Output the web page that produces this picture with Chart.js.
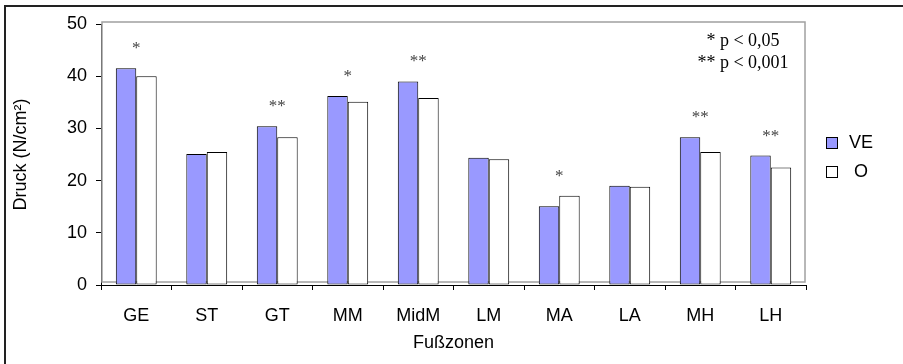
<!DOCTYPE html>
<html>
<head>
<meta charset="utf-8">
<script src="https://cdn.jsdelivr.net/npm/chart.js@4.4.1/dist/chart.umd.min.js"></script>
<style>
    body { margin: 0; background: #fff; }
    #wrap { position: relative; width: 903px; height: 364px; overflow: hidden; background: #fff; }
    #frame { position: absolute; left: 4px; top: 5px; width: 1000px; height: 1000px; border: 2px solid #222; }
    #chart { position: absolute; left: 0; top: 0; }
    #legend { position: absolute; left: 826px; top: 128px; font: 18px "Liberation Sans", Arial, sans-serif; color: #000; }
    .item { height: 29px; display: flex; align-items: center; }
    .box { width: 10px; height: 10px; border: 1px solid #000; margin-right: 10px; }
    .txt { display: inline-block; width: 26px; text-align: center; }
</style>
</head>
<body>
<div id="wrap">
    <div id="frame"></div>
    <canvas id="chart" width="903" height="364"></canvas>
    <div id="legend"></div>
</div>
<script>
// Data
const categories = ['GE', 'ST', 'GT', 'MM', 'MidM', 'LM', 'MA', 'LA', 'MH', 'LH'];
const veValues = [41.5, 25.1, 30.4, 36.2, 39.0, 24.4, 15.1, 19.0, 28.3, 24.8];
const oValues = [40.0, 25.5, 28.3, 35.1, 35.8, 24.1, 17.1, 18.8, 25.5, 22.5];
const significance = ['*', '', '**', '*', '**', '', '*', '', '**', '**'];
const seriesNames = ['VE', 'O'];
const pNotes = ['* p < 0,05', '** p < 0,001'];
const yMin = 0, yMax = 50, yStep = 10;

const SANS = '"Liberation Sans", Arial, sans-serif';
const SERIF = '"Liberation Serif", "Times New Roman", serif';

// Gray plot box, significance stars and p-value note
const extrasPlugin = {
    id: 'extras',
    beforeDatasetsDraw(chart) {
        const { ctx, chartArea, scales } = chart;
        const y0 = scales.y.getPixelForValue(0);
        ctx.save();
        ctx.strokeStyle = '#a0a0a0';
        ctx.lineWidth = 1.5;
        ctx.strokeRect(chartArea.left + 1, chartArea.top - 2, chartArea.right - chartArea.left - 2, y0 - 3 - (chartArea.top - 2));
        ctx.restore();
    },
    afterDatasetsDraw(chart) {
        const { ctx, scales } = chart;
        ctx.save();
        ctx.fillStyle = '#444';
        ctx.font = '17px ' + SERIF;
        ctx.textAlign = 'center';
        ctx.textBaseline = 'alphabetic';
        significance.forEach((s, i) => {
            if (!s) return;
            const top = Math.max(veValues[i], oValues[i]);
            const x = scales.x.getPixelForValue(i);
            ctx.fillText(s, x, scales.y.getPixelForValue(top) - 15);
        });
        ctx.fillStyle = '#000';
        ctx.font = '18px ' + SERIF;
        ctx.textBaseline = 'middle';
        pNotes.forEach((t, i) => {
            ctx.fillText(t, 743, 41 + i * 22);
        });
        ctx.restore();
    }
};

const chart = new Chart(document.getElementById('chart').getContext('2d'), {
    type: 'bar',
    data: {
        labels: categories,
        datasets: [
            { label: seriesNames[0], data: veValues, backgroundColor: '#9999ff', borderColor: '#000', borderWidth: 1, borderSkipped: false },
            { label: seriesNames[1], data: oValues, backgroundColor: '#ffffff', borderColor: '#000', borderWidth: 1, borderSkipped: false },
        ],
    },
    options: {
        responsive: false,
        animation: false,
        devicePixelRatio: 1,
        layout: { padding: { left: 0, top: 24, right: 97, bottom: 0 } },
        datasets: { bar: { categoryPercentage: 0.58, barPercentage: 1.0 } },
        plugins: { legend: { display: false }, tooltip: { enabled: false } },
        scales: {
            x: {
                grid: { drawOnChartArea: false, drawTicks: true, tickLength: 5, color: '#000' },
                border: { color: '#000', width: 1 },
                ticks: { color: '#000', font: { family: SANS, size: 18 }, padding: 15, maxRotation: 0 },
                title: { display: true, text: 'Fußzonen', color: '#000', font: { family: SANS, size: 18 }, padding: 10 },
                afterFit: s => { s.height = 79; },
            },
            y: {
                min: yMin,
                max: yMax,
                grid: { drawOnChartArea: false, drawTicks: true, tickLength: 5, color: '#000' },
                border: { color: '#000', width: 1 },
                ticks: { stepSize: yStep, color: '#000', font: { family: SANS, size: 18 }, padding: 9 },
                title: { display: true, text: 'Druck (N/cm²)', color: '#000', font: { family: SANS, size: 18 }, padding: 10 },
                afterFit: s => { s.width = 101; },
            },
        },
    },
    plugins: [extrasPlugin],
});

// Legend
document.getElementById('legend').innerHTML = chart.data.datasets.map(
    ds => `
        <div class="item">
            <span class="box" style="background:${ds.backgroundColor}"></span>
            <span class="txt">${ds.label}</span>
        </div>
    `
).join('');
</script>
</body>
</html>
